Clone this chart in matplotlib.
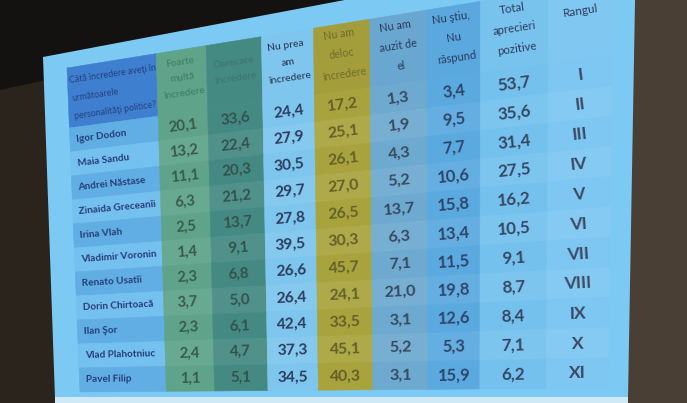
import numpy as np
import matplotlib.pyplot as plt
from matplotlib.patches import Polygon
from matplotlib.colors import to_rgb

# table content
question = "Câtă încredere aveţi în\nurmătoarele\npersonalităţi politice?"
headers = ["Foarte\nmultă\nîncredere", "Oarecare\nîncredere", "Nu prea\nam\nîncredere",
           "Nu am\ndeloc\nîncredere", "Nu am\nauzit de\nel", "Nu ştiu,\nNu\nrăspund",
           "Total\naprecieri\npozitive", "Rangul"]
names = ["Igor Dodon", "Maia Sandu", "Andrei Năstase", "Zinaida Greceanîi", "Irina Vlah",
         "Vladimir Voronin", "Renato Usatîi", "Dorin Chirtoacă", "Ilan Şor",
         "Vlad Plahotniuc", "Pavel Filip"]
foarte = [20.1, 13.2, 11.1, 6.3, 2.5, 1.4, 2.3, 3.7, 2.3, 2.4, 1.1]
oarecare = [33.6, 22.4, 20.3, 21.2, 13.7, 9.1, 6.8, 5.0, 6.1, 4.7, 5.1]
nu_prea = [24.4, 27.9, 30.5, 29.7, 27.8, 39.5, 26.6, 26.4, 42.4, 37.3, 34.5]
deloc = [17.2, 25.1, 26.1, 27.0, 26.5, 30.3, 45.7, 24.1, 33.5, 45.1, 40.3]
auzit = [1.3, 1.9, 4.3, 5.2, 13.7, 6.3, 7.1, 21.0, 3.1, 5.2, 3.1]
nu_stiu = [3.4, 9.5, 7.7, 10.6, 15.8, 13.4, 11.5, 19.8, 12.6, 5.3, 15.9]
total = [53.7, 35.6, 31.4, 27.5, 16.2, 10.5, 9.1, 8.7, 8.4, 7.1, 6.2]
rang = ["I", "II", "III", "IV", "V", "VI", "VII", "VIII", "IX", "X", "XI"]

columns = [foarte, oarecare, nu_prea, deloc, auzit, nu_stiu, total]

# look of the projected slide
col_w = [1.63, 0.91, 1.01, 0.95, 1.03, 1.04, 0.98, 1.25, 1.17]
col_bg = ["#66b6e8", "#5ea38a", "#458a82", "#7ec6ee", "#a9a33d",
          "#6eaad0", "#5aa9df", "#74c1ee", "#7dc7f2"]
head_bg = ["#3f7fcf", "#5ea38a", "#458a82", "#7ec6ee", "#a39d3c",
           "#6aa7d0", "#5aa8de", "#78c3ee", "#80c8f2"]
head_fg = ["#26407e", "#3f7d62", "#3c7670", "#2a3552", "#6f6d2c",
           "#2b3a5c", "#2b3a5c", "#2e3b5c", "#2e3b5c"]
body_fg = ["#273c78", "#3a5a4e", "#33524d", "#2c3c5c", "#63602a",
           "#38495f", "#2f466a", "#374762", "#3c4963"]
font = ["Lato", "DejaVu Sans"]

W, H = 687, 403
# corners of the table in the photo (perspective, bilinear fit)
TL = np.array([67.0, 68.0])
TR = np.array([613.0, -20.0])
BL = np.array([80.0, 392.0])
BR = np.array([608.0, 388.0])
head_h = 2.5
n_rows = len(names)
total_v = head_h + n_rows
edges = np.concatenate([[0], np.cumsum(col_w)]) / sum(col_w)


def P(u, v):
    t = v / total_v
    return (1 - u) * (1 - t) * TL + u * (1 - t) * TR + (1 - u) * t * BL + u * t * BR


def lighten(c, f):
    r = np.array(to_rgb(c))
    return tuple(r + (1 - r) * f)


def quad(ax, u0, u1, v0, v1, color):
    pts = [P(u0, v0), P(u1, v0), P(u1, v1), P(u0, v1)]
    ax.add_patch(Polygon(pts, closed=True, facecolor=color, edgecolor=color, lw=0.4))


def put(ax, u, v, s, size, color, ha="center", weight="bold", ma="center", ls=1.15):
    x, y = P(u, v)
    du = P(u + 0.01, v) - P(u, v)
    ang = np.degrees(np.arctan2(-du[1], du[0]))
    dv = P(u, v + 0.1) - P(u, v)
    scale = np.hypot(*dv) / 0.1 / 24.0
    ax.text(x, y, s, fontsize=size * scale, rotation=ang, rotation_mode="anchor",
            ha=ha, va="center", color=color, fontweight=weight, family=font,
            multialignment=ma, linespacing=ls)


fig = plt.figure(figsize=(W / 100, H / 100), dpi=100)
ax = fig.add_axes([0, 0, 1, 1])
ax.set_xlim(0, W)
ax.set_ylim(H, 0)
ax.axis("off")

# room around the screen
ax.add_patch(Polygon([(0, 0), (W, 0), (W, H), (0, H)], facecolor="#2b241d", lw=0))
ax.add_patch(Polygon([(0, 0), (420, 0), (0, 90)], facecolor="#141210", lw=0))
ax.add_patch(Polygon([(630, 0), (W, 0), (W, H), (624, H)], facecolor="#4a3f34", lw=0))
# projector screen
ax.add_patch(Polygon([(43, 57), (636, -55), (628, 398), (55, 398)],
                     facecolor="#7ccaf3", lw=0))
ax.add_patch(Polygon([(55, 397), (628, 397), (628, H), (55, H)],
                     facecolor="#cfe9f7", lw=0))

# header row
for j in range(len(col_w)):
    quad(ax, edges[j], edges[j + 1], 0, head_h, head_bg[j])
put(ax, edges[0] + 0.006, head_h / 2 + 0.05, question, 6.4, head_fg[0], ha="left",
    weight="normal", ma="left", ls=2.3)
for j, h in enumerate(headers):
    uc = (edges[j + 1] + edges[j + 2]) / 2
    vc = 0.85 if h == "Rangul" else 1.12
    put(ax, uc, vc, h, 6.8, head_fg[j + 1], weight="normal", ls=2.0)

# body rows
for i in range(n_rows):
    v0 = head_h + i
    for j in range(len(col_w)):
        c = col_bg[j]
        if j == 0:
            c = "#60aee3" if i % 2 == 0 else "#74c0ee"
        elif i % 2 == 1:
            c = lighten(c, 0.06)
        quad(ax, edges[j], edges[j + 1], v0, v0 + 1, c)
    put(ax, edges[0] + 0.012, v0 + 0.5, names[i], 7.2, body_fg[0], ha="left")
    for j, vals in enumerate(columns):
        uc = (edges[j + 1] + edges[j + 2]) / 2
        txt = f"{vals[i]:.1f}".replace(".", ",")
        put(ax, uc, v0 + 0.5, txt, 10.1, body_fg[j + 1])
    uc = (edges[-2] + edges[-1]) / 2
    put(ax, uc, v0 + 0.5, rang[i], 10.1, body_fg[-1])

fig.savefig("out.png", dpi=100)
